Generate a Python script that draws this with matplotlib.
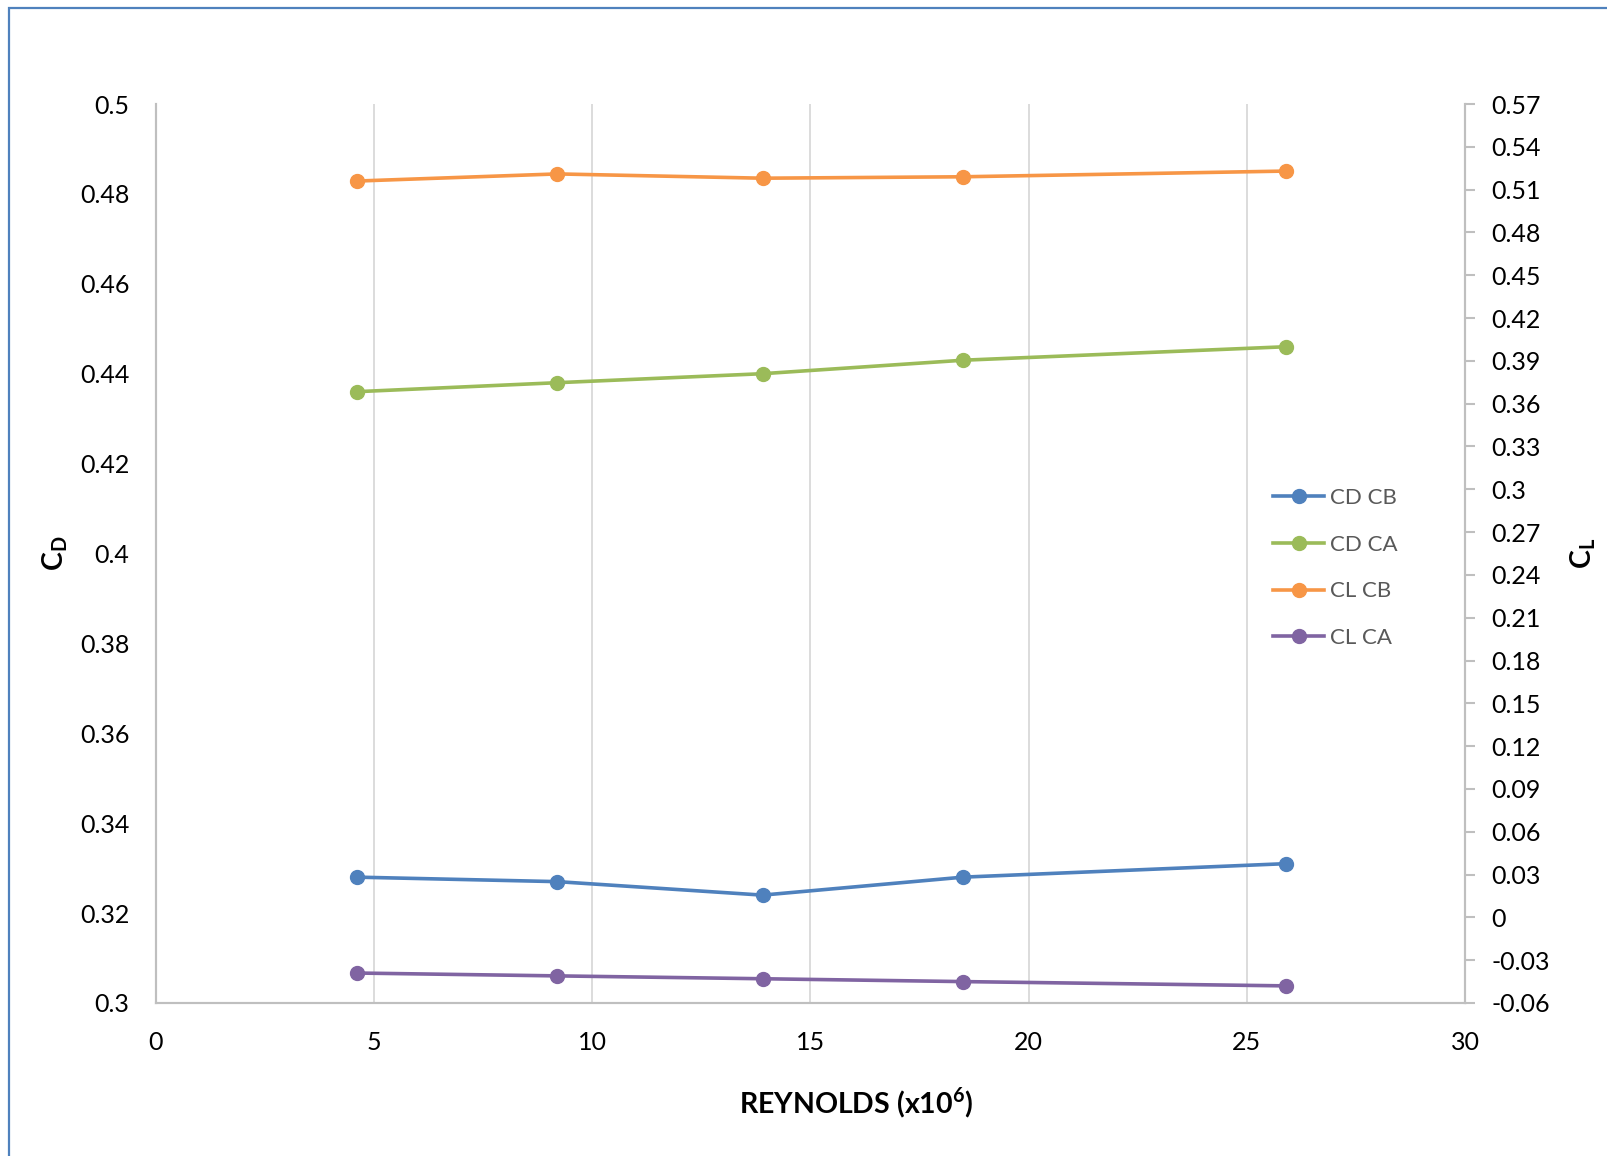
import matplotlib
matplotlib.use("Agg")
import matplotlib.pyplot as plt
from matplotlib.patches import Rectangle

plt.rcParams['font.family'] = ['Lato', 'DejaVu Sans']
plt.rcParams['mathtext.fontset'] = 'custom'
plt.rcParams['mathtext.rm'] = 'Lato'
plt.rcParams['mathtext.bf'] = 'Lato:bold'

reynolds = [4.6, 9.2, 13.9, 18.5, 25.9]
cd_cb = [0.328, 0.327, 0.324, 0.328, 0.331]
cd_ca = [0.436, 0.438, 0.440, 0.443, 0.446]
cl_cb = [0.516, 0.521, 0.518, 0.519, 0.523]
cl_ca = [-0.039, -0.041, -0.043, -0.045, -0.048]

left_ticks = [0.30, 0.32, 0.34, 0.36, 0.38, 0.40, 0.42, 0.44, 0.46, 0.48, 0.50]
left_labels = ['0.3', '0.32', '0.34', '0.36', '0.38', '0.4', '0.42', '0.44', '0.46', '0.48', '0.5']
right_ticks = [-0.06 + 0.03 * i for i in range(22)]
right_labels = ['-0.06', '-0.03', '0', '0.03', '0.06', '0.09', '0.12', '0.15', '0.18', '0.21',
                '0.24', '0.27', '0.3', '0.33', '0.36', '0.39', '0.42', '0.45', '0.48', '0.51',
                '0.54', '0.57']
x_ticks = [0, 5, 10, 15, 20, 25, 30]

BLUE = '#4F81BD'
GREEN = '#9BBB59'
ORANGE = '#F79646'
PURPLE = '#8064A2'
SPINE = '#BFBFBF'
GRID = '#D9D9D9'

fig = plt.figure(figsize=(16.08, 11.56), dpi=100)
fig.patches.append(Rectangle((9 / 1608, -0.1), 1.2, 1.1 - 8 / 1156, transform=fig.transFigure,
                             fill=False, edgecolor='#4F81BD', linewidth=1.6))

ax = fig.add_axes([156 / 1608, 1 - 1003 / 1156, (1465 - 156) / 1608, (1003 - 104) / 1156])
ax2 = ax.twinx()

lw = 2.6
ms = 10
h1, = ax.plot(reynolds, cd_cb, color=BLUE, lw=lw, marker='o', ms=ms, label='CD CB')
h2, = ax.plot(reynolds, cd_ca, color=GREEN, lw=lw, marker='o', ms=ms, label='CD CA')
h3, = ax2.plot(reynolds, cl_cb, color=ORANGE, lw=lw, marker='o', ms=ms, label='CL CB')
h4, = ax2.plot(reynolds, cl_ca, color=PURPLE, lw=lw, marker='o', ms=ms, label='CL CA')

ax.set_xlim(0, 30)
ax.set_ylim(0.30, 0.50)
ax2.set_ylim(-0.06, 0.57)

ax.set_xticks(x_ticks)
ax.set_xticklabels([str(t) for t in x_ticks])
ax.set_yticks(left_ticks)
ax.set_yticklabels(left_labels)
ax2.set_yticks(right_ticks)
ax2.set_yticklabels(right_labels)

ax.grid(axis='x', color=GRID, linewidth=1.3)
ax.grid(axis='y', visible=False)
ax.set_axisbelow(True)

for a in (ax, ax2):
    a.spines['top'].set_visible(False)
    for s in ('left', 'right', 'bottom'):
        a.spines[s].set_color(SPINE)
        a.spines[s].set_linewidth(1.5)

ax.tick_params(axis='x', length=0, pad=20, labelsize=18, labelcolor='black')
ax.tick_params(axis='y', length=0, pad=19, labelsize=18, labelcolor='black')
ax2.tick_params(axis='y', length=7, width=1.5, color=SPINE, direction='out', pad=12,
                labelsize=18, labelcolor='black')

fig.text(856 / 1608, 1 - 1103 / 1156, r'REYNOLDS (x10$^{\mathbf{6}}$)', fontsize=20.5,
         fontweight='bold', ha='center', va='center')
fig.text(55 / 1608, 1 - 553 / 1156, r'C$_{\mathbf{D}}$', fontsize=20.5, fontweight='bold',
         rotation=90, ha='center', va='center')
fig.text(1583 / 1608, 1 - 553 / 1156, r'C$_{\mathbf{L}}$', fontsize=20.5, fontweight='bold',
         rotation=90, ha='center', va='center')

leg = ax2.legend(handles=[h1, h2, h3, h4], loc='upper left',
                 bbox_to_anchor=((1273 - 156) / (1465 - 156), (1003 - 488) / (1003 - 104)),
                 frameon=False, fontsize=16, handlelength=2.3, handletextpad=0.27,
                 labelspacing=1.2, borderaxespad=0, borderpad=0)
for t in leg.get_texts():
    t.set_color('#595959')

fig.savefig('out.png', dpi=100)
